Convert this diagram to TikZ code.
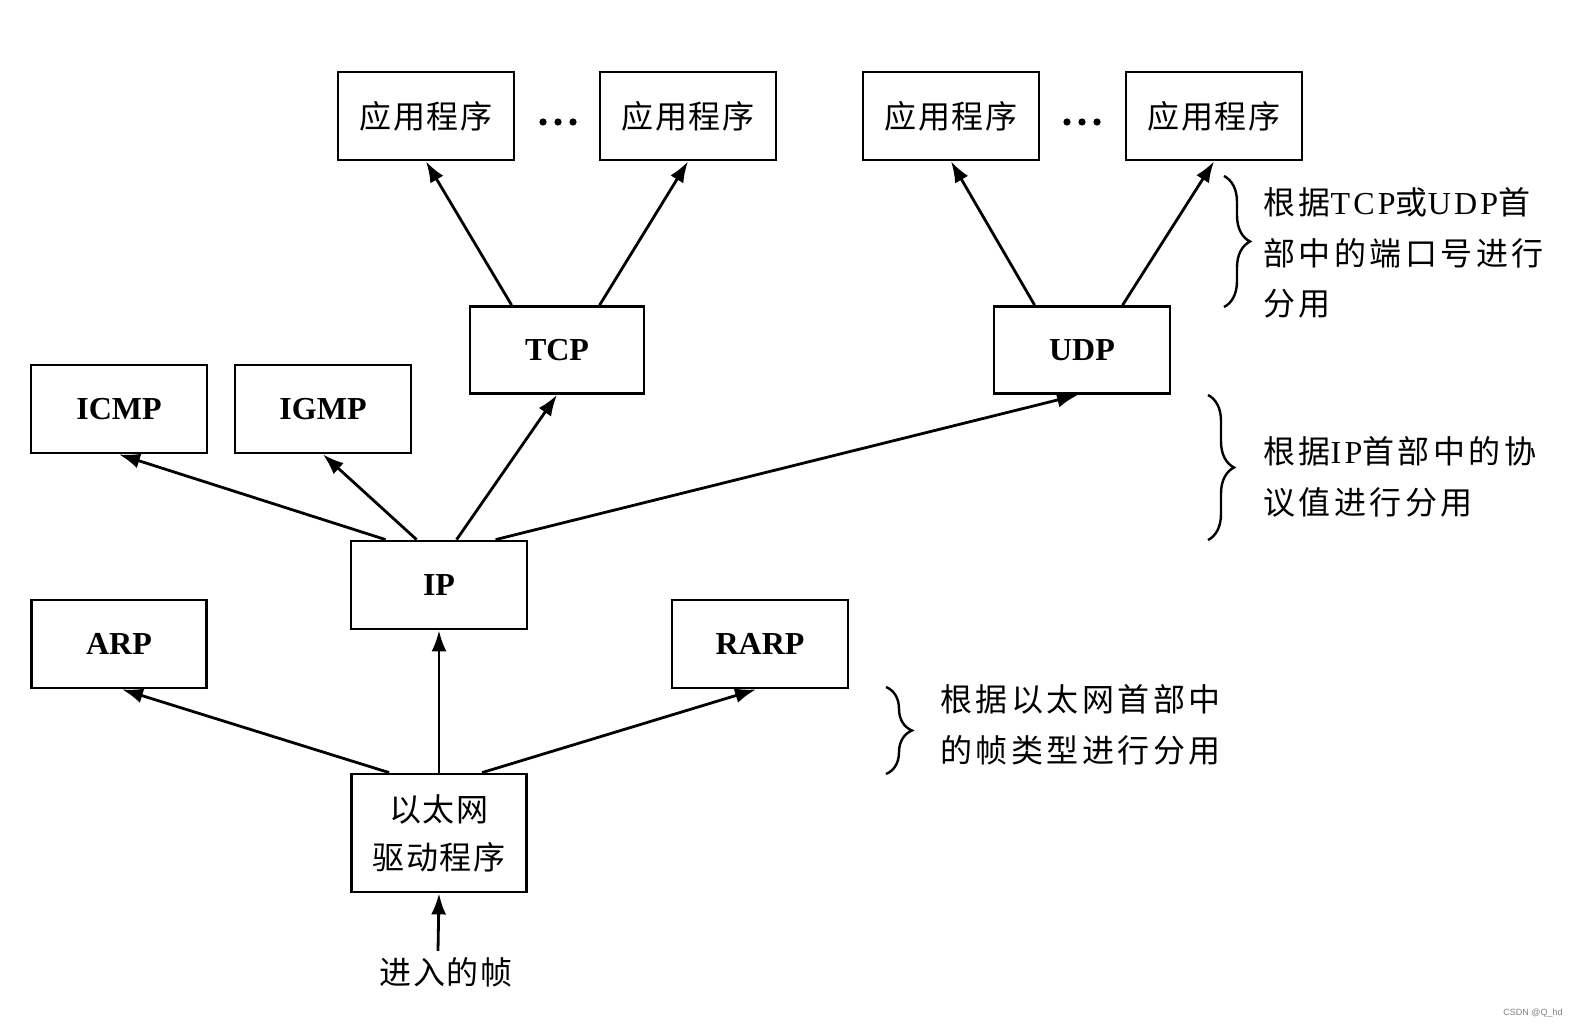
\documentclass[tikz,border=0pt]{standalone}
\usepackage{fontspec}
\setmainfont{Liberation Serif}
\setsansfont{Liberation Sans}
\newfontfamily\cjk[LetterSpace=11]{Noto Sans CJK SC}
\newfontfamily\cjkbox[LetterSpace=6]{Noto Sans CJK SC}
\usetikzlibrary{arrows.meta,decorations.pathreplacing,calc}
\begin{document}
\begin{tikzpicture}[x=1pt,y=-1pt,
  box/.style={draw,line width=2.8pt,minimum width=176pt,minimum height=88pt,inner sep=0pt,
    font=\fontsize{32}{36}\selectfont\bfseries},
  cbox/.style={box,font=\cjkbox\fontsize{32}{50}\selectfont,align=center},
  arr/.style={line width=2.8pt,-{Latex[length=21pt,width=15pt]}},
  brc/.style={decorate,decoration={brace,amplitude=26pt},line width=2.4pt},
  note/.style={font=\cjk\fontsize{32}{50.5}\selectfont,align=left,anchor=west,inner sep=0pt},
  dot/.style={fill=black}]
\useasboundingbox (0,0) rectangle (1577,1032);
\fill[white] (0,0) rectangle (1577,1032);
% application boxes
\node[cbox] (app1) at (426,116) {应用程序};
\node[cbox] (app2) at (688,116) {应用程序};
\node[cbox] (app3) at (951,116) {应用程序};
\node[cbox] (app4) at (1214,116) {应用程序};
\coordinate (dots1) at (558,122);
\coordinate (dots2) at (1082,122);
\foreach \c in {dots1,dots2}{
  \foreach \dx in {-15,0,15}{\fill[dot] ($(\c)+(\dx,0)$) circle (3.6pt);}
}
% transport
\node[box,minimum width=174pt,minimum height=87pt] (tcp) at (557,350) {TCP};
\node[box,minimum height=87pt] (udp) at (1082,350) {UDP};
\node[box] (icmp) at (119,409) {ICMP};
\node[box] (igmp) at (323,409) {IGMP};
\node[box] (ip) at (439,585) {IP};
\node[box,minimum width=175pt] (arp) at (119,644) {ARP};
\node[box] (rarp) at (760,644) {RARP};
\node[cbox,minimum width=175pt,minimum height=118pt] (drv) at (439,833) {以太网\\[-2pt]驱动程序};
\node[font=\cjkbox\fontsize{32}{36}\selectfont,inner sep=0pt] (frame) at (446,972) {进入的帧};
% arrows
\draw[arr] ($(tcp.north west)+(43,0)$) -- (app1.south);
\draw[arr] ($(tcp.north west)+(131,0)$) -- (app2.south);
\draw[arr] ($(udp.north west)+(42,0)$) -- (app3.south);
\draw[arr] ($(udp.north west)+(130,0)$) -- (app4.south);
\draw[arr] ($(ip.north west)+(36,0)$) -- (icmp.south);
\draw[arr] ($(ip.north west)+(67,0)$) -- (igmp.south);
\draw[arr] ($(ip.north west)+(107,0)$) -- (tcp.south);
\draw[arr] ($(ip.north west)+(146,0)$) -- ($(udp.south)+(-4,0)$);
\draw[arr] ($(drv.north west)+(39,0)$) -- ($(arp.south)+(3,0)$);
\draw[arr] (drv.north) -- (ip.south);
\draw[arr] ($(drv.north west)+(132,0)$) -- ($(rarp.south)+(-4,0)$);
\draw[arr] ($(frame.north)+(-8,-6)$) -- (drv.south);
% braces and notes
\draw[brc] (1224,176) coordinate (b1a) -- (1224,307) coordinate (b1b);
\node[note] (n1) at (1263,253) {根据{\rmfamily\addfontfeature{LetterSpace=10}TCP}或{\rmfamily\addfontfeature{LetterSpace=10}UDP}首\\部中的端口号进行\\分用};
\draw[brc] (1208,395) coordinate (b2a) -- (1208,540) coordinate (b2b);
\node[note] (n2) at (1263,477) {根据{\rmfamily\addfontfeature{LetterSpace=10}IP}首部中的协\\议值进行分用};
\draw[brc] (886,687) coordinate (b3a) -- (886,774) coordinate (b3b);
\node[note] (n3) at (940,725) {根据以太网首部中\\的帧类型进行分用};
% watermark
\node[font=\sffamily\fontsize{9}{10}\selectfont,text=gray] (wm) at (1533,1013) {CSDN @Q\_hd};
\end{tikzpicture}
\end{document}
